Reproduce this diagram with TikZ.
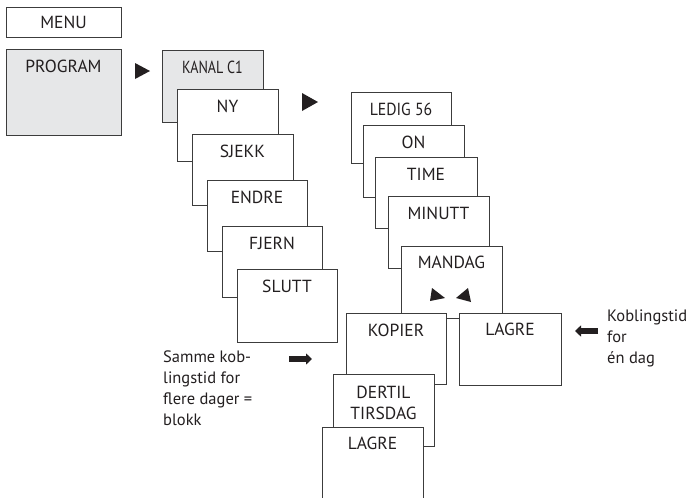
\documentclass[tikz,border=0pt]{standalone}
\usepackage{fontspec}
\setmainfont{PT Sans}
\usetikzlibrary{arrows.meta}
\definecolor{ln}{HTML}{3C3C3C}
\definecolor{gf}{HTML}{E6E7E8}
\definecolor{tx}{HTML}{231F20}
\tikzset{
  box/.style={draw=ln, line width=0.8pt, fill=white, anchor=north west, inner sep=0pt, outer sep=0pt},
  gbox/.style={box, fill=gf},
  lbl/.style={text=tx, font=\fontsize{17.5}{20}\selectfont, inner sep=0pt, anchor=center},
  side/.style={text=tx, font=\fontsize{16.5}{20.7}\selectfont, inner sep=0pt, anchor=north west, align=left},
  tri/.style={fill=tx, draw=none},
  fat/.style={draw=tx, line width=5.5pt, -{Triangle[length=6pt,width=11pt]}}
}
\newcommand\bx[7]{%
  \node[#6, minimum width=#4pt, minimum height=#5pt] (#1) at (#2,#3) {};
  \node[lbl] (#1t) at ([yshift=-17pt]#1.north) {#7};}
\begin{document}
\begin{tikzpicture}[x=1pt,y=-1pt]
\useasboundingbox (0,0) rectangle (689,498);
\clip (0,0) rectangle (689,498);
% MENU
\node[box, minimum width=115pt, minimum height=30pt] (menu) at (6,7) {};
\node[lbl] (menut) at (menu.center) {MENU};
% PROGRAM
\bx{prog}{6}{49}{115}{86}{gbox}{PROGRAM}
% first column
\node[gbox, minimum width=101pt, minimum height=72pt] (kanal) at (162,50) {};
\node[lbl] (kanalt) at ([yshift=-17pt]kanal.north) {\scalebox{0.8}[1]{KANAL C1}};
\bx{ny}{177}{89}{101}{72}{box}{NY}
\bx{sjekk}{192}{134}{101}{71}{box}{SJEKK}
\bx{endre}{207}{180}{100}{71}{box}{ENDRE}
\bx{fjern}{222}{226}{100}{71}{box}{FJERN}
\bx{slutt}{237}{269}{100}{73}{box}{SLUTT}
% second column
\bx{ledig}{351}{92}{100}{71}{box}{\scalebox{0.9}[1]{LEDIG 56}}
\bx{on}{363}{125}{101}{72}{box}{ON}
\bx{time}{375}{157}{102}{71}{box}{TIME}
\bx{minutt}{388}{196}{101}{72}{box}{MINUTT}
\node[box, minimum width=101pt, minimum height=72pt] (mandag) at (401,246) {};
\node[lbl] (mandagt) at ([yshift=-16pt]mandag.north) {MANDAG};
\bx{kopier}{346}{313}{100}{71}{box}{KOPIER}
\node[box, minimum width=102pt, minimum height=72pt] (lagre) at (459,313) {};
\node[lbl] (lagret) at ([yshift=-16pt]lagre.north) {LAGRE};
\node[box, minimum width=101pt, minimum height=72pt] (dertil) at (333,374) {};
\node[lbl] (dertilt) at ([yshift=-18pt]dertil.north) {DERTIL};
\node[lbl] (tirsdagt) at ([yshift=-39pt]dertil.north) {TIRSDAG};
\node[box, minimum width=101pt, minimum height=80pt] (lagrb) at (322,427) {};
\node[lbl] (lagrbt) at ([yshift=-16pt]lagrb.north) {LAGRE};
% triangles
\fill[tri] (135,63) -- (150,71) -- (135,79) -- cycle;
\fill[tri] (302,93) -- (318,102) -- (302,111) -- cycle;
\fill[tri] (432,288) -- (445,298) -- (430,301) -- cycle;
\fill[tri] (468,288) -- (456,298) -- (471,302) -- cycle;
% side texts
\node[side] (lefttext) at (163,351) {Samme kob-\\lingstid for\\flere dager =\\blokk};
\node[side] (righttext) at (607,310) {Koblingstid\\for\\én dag};
\coordinate (a1s) at (289,359);
\coordinate (a1e) at (312,359);
\draw[fat] (a1s) -- (a1e);
\coordinate (a2s) at (598,331);
\coordinate (a2e) at (575,331);
\draw[fat] (a2s) -- (a2e);
\end{tikzpicture}
\end{document}
